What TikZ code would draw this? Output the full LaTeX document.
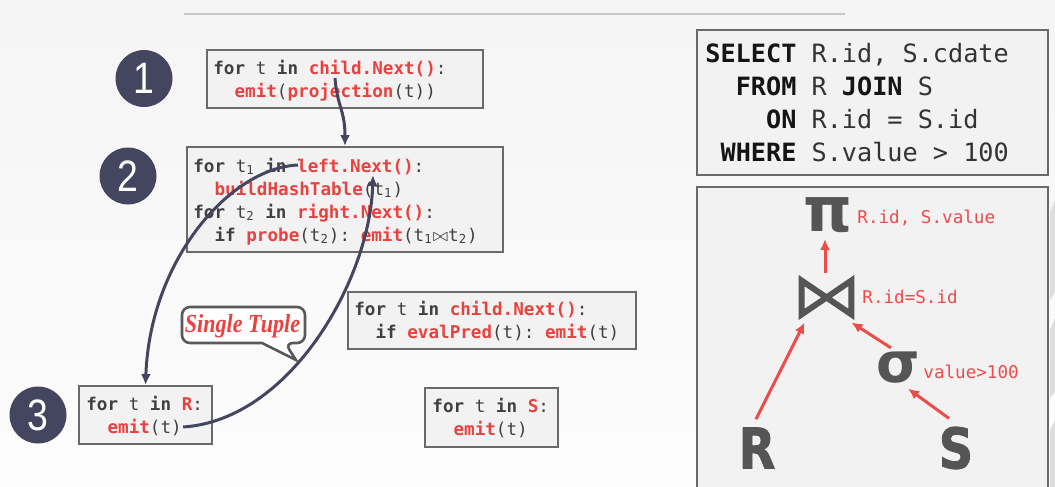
\documentclass[tikz,border=0pt]{standalone}
\usepackage{fontspec}
\setmainfont{Liberation Serif}
\setmonofont{DejaVu Sans Mono}
\newfontfamily\numfont[FakeStretch=0.85]{Liberation Sans}
\newfontfamily\symfont{DejaVu Sans}
\newfontfamily\bigfont[FakeStretch=0.85,BoldFeatures={FakeBold=1.5}]{DejaVu Sans}
\newfontfamily\callfont[FakeStretch=0.85]{Liberation Serif}
\usetikzlibrary{arrows.meta,calc}
\definecolor{navy}{HTML}{44465F}
\definecolor{codered}{HTML}{E8413F}
\definecolor{codegray}{HTML}{404040}
\definecolor{boxfill}{HTML}{F2F2F2}
\definecolor{boxline}{HTML}{6A6A6A}
\definecolor{symgray}{HTML}{555555}
\definecolor{treered}{HTML}{EE4B4B}
\definecolor{sqlkw}{HTML}{151515}
\definecolor{sqltx}{HTML}{333333}
\newcommand\kw[1]{\textbf{#1}}
\newcommand\rd[1]{\textcolor{codered}{\textbf{#1}}}
\newcommand\ind{\phantom{xx}}
\tikzset{
  codebox/.style={draw=boxline, line width=1pt, fill=boxfill, inner sep=0pt},
  codeline/.style={anchor=base west, inner sep=0pt, text=codegray,
    font=\ttfamily\fontsize{8.8}{10}\selectfont},
  sqlline/.style={anchor=base west, inner sep=0pt, text=sqltx,
    font=\ttfamily\fontsize{12.6}{14}\selectfont},
  numcirc/.style={circle, fill=navy, minimum size=28.5pt, inner sep=0pt, text=white,
    font=\numfont\fontsize{22}{22}\selectfont},
  flow/.style={draw=navy, line width=1.5pt, -{Latex[length=5.5pt,width=5pt]}},
  redarrow/.style={draw=treered, line width=1.5pt, -{Latex[length=5.5pt,width=5pt]}},
  treelabel/.style={anchor=base west, inner sep=0pt, text=treered,
    font=\ttfamily\fontsize{8.8}{10}\selectfont},
  symnode/.style={inner sep=0pt, text=symgray},
}
\begin{document}
\begin{tikzpicture}[x=0.5pt,y=-0.5pt]
\useasboundingbox (0,0) rectangle (1055,487);
\clip (0,0) rectangle (1055,487);
% background
\fill[top color=black!4, bottom color=black!1] (0,0) rectangle (1055,487);
\draw[black!22, line width=1pt] (184,14) -- (845,14);
% right edge decoration
\fill[black!13] (1050,212) -- (1055,200) -- (1055,292) -- (1050,300) -- cycle;
\fill[black!13] (1050,330) -- (1055,318) -- (1055,392) -- (1050,398) -- cycle;
\fill[black!13] (1050,430) -- (1055,420) -- (1055,487) -- (1050,487) -- cycle;

% number circles
\node[numcirc] (n1) at (144,78.5) {1};
\node[numcirc] (n2) at (128,176) {2};
\node[numcirc] (n3) at (38,415) {3};

% code boxes
\node[codebox, minimum width=138pt, minimum height=29pt] (box1) at (345,79) {};
\node[codebox, minimum width=158pt, minimum height=52.5pt] (box2) at (345,199.5) {};
\node[codebox, minimum width=144pt, minimum height=28.5pt] (boxsig) at (492,320.5) {};
\node[codebox, minimum width=66.5pt, minimum height=29pt] (boxR) at (145.5,415) {};
\node[codebox, minimum width=66.5pt, minimum height=29.5pt] (boxS) at (491.5,417.5) {};

\node[codeline] (b1a) at (213,74) {\kw{for} t \kw{in} \rd{child.Next()}:};
\node[codeline] (b1b) at (213,97) {\ind\rd{emit}(\rd{projection}(t))};

\node[codeline] (b2a) at (193,172) {\kw{for} t\textsubscript{1} \kw{in} \rd{left.Next()}:};
\node[codeline] (b2b) at (193,195) {\ind\rd{buildHashTable}(t\textsubscript{1})};
\node[codeline] (b2c) at (193,218) {\kw{for} t\textsubscript{2} \kw{in} \rd{right.Next()}:};
\node[codeline] (b2d) at (193,241) {\ind\kw{if} \rd{probe}(t\textsubscript{2}): \rd{emit}(t\textsubscript{1}$\bowtie$t\textsubscript{2})};

\node[codeline] (bsa) at (354,315) {\kw{for} t \kw{in} \rd{child.Next()}:};
\node[codeline] (bsb) at (354,338) {\ind\kw{if} \rd{evalPred}(t): \rd{emit}(t)};

\node[codeline] (bRa) at (86,410) {\kw{for} t \kw{in} \rd{R}:};
\node[codeline] (bRb) at (86,433) {\ind\rd{emit}(t)};

\node[codeline] (bSa) at (432,412) {\kw{for} t \kw{in} \rd{S}:};
\node[codeline] (bSb) at (432,435) {\ind\rd{emit}(t)};

% flow curves
\coordinate (c1s) at (335,78);
\draw[flow] (c1s) .. controls (337,106) and (345,110) .. (box2.north);
\coordinate (c2s) at (298,165);
\draw[flow] (c2s) .. controls (230,168) and (150,260) .. (boxR.north);
\coordinate (c3s) at ($(bRb.base east)+(1,-6)$);
\coordinate (c3e) at (373,175);
\draw[flow] (c3s) .. controls (290,420) and (370,280) .. (c3e);

% callout
\draw[line width=1.3pt, draw=black!65, fill=white, rounded corners=4pt]
  (182,307) -- (305,307) -- (305,343) -- (285,343) [sharp corners] -- (296,360) -- (262,343)
  [rounded corners=4pt] -- (182,343) -- cycle;
\node[inner sep=0pt, text=codered, font=\callfont\fontsize{13}{13}\selectfont\bfseries\itshape] (tup) at (242.5,326) {Single Tuple};

% SQL box
\node[codebox, minimum width=175.5pt, minimum height=72.5pt] (sql) at (872.5,102.5) {};
\node[sqlline] (q1) at (705,62) {\textcolor{sqlkw}{\textbf{SELECT}} R.id, S.cdate};
\node[sqlline] (q2) at (705,95) {\ind\textcolor{sqlkw}{\textbf{FROM}} R \textcolor{sqlkw}{\textbf{JOIN}} S};
\node[sqlline] (q3) at (705,128) {\ind\ind\textcolor{sqlkw}{\textbf{ON}} R.id = S.id};
\node[sqlline] (q4) at (705,161) {\phantom{x}\textcolor{sqlkw}{\textbf{WHERE}} S.value > 100};

% tree box
\node[codebox, minimum width=175.5pt, minimum height=156.5pt] (tree) at (872.5,343.5) {};
\node[symnode, font=\symfont\bfseries\fontsize{31}{31}\selectfont] (pi) at (828,215) {π};
\node[treelabel] (pilab) at (857,223) {R.id, S.value};
\node[inner sep=0pt, minimum width=24.5pt, minimum height=16.5pt] (join) at (826.5,297.5) {};
\draw[symgray, line width=3pt, line join=miter]
  (join.north west) -- (join.south west) -- (join.north east) -- (join.south east) -- cycle;
\node[treelabel] (joinlab) at (862,303) {R.id=S.id};
\node[symnode, font=\symfont\bfseries\fontsize{28}{28}\selectfont] (sigma) at (898,368) {σ};
\node[treelabel] (siglab) at (923,378) {value>100};
\node[symnode, font=\bigfont\bfseries\fontsize{28}{28}\selectfont] (R) at (757,448) {R};
\node[symnode, font=\bigfont\bfseries\fontsize{28}{28}\selectfont] (S) at (956,448) {S};

\draw[redarrow] ($(join.north)+(-1.5,-8)$) -- ($(pi.south)+(-3,6)$);
\draw[redarrow] ($(R.north)+(-1,-8)$) -- ($(join.south west)+(3,8)$);
\draw[redarrow] ($(sigma.north)+(-7,-4)$) -- ($(join.south east)+(0,8)$);
\draw[redarrow] ($(S.north)+(-7,-8)$) -- ($(sigma.south)+(10,4.5)$);
\end{tikzpicture}
\end{document}
